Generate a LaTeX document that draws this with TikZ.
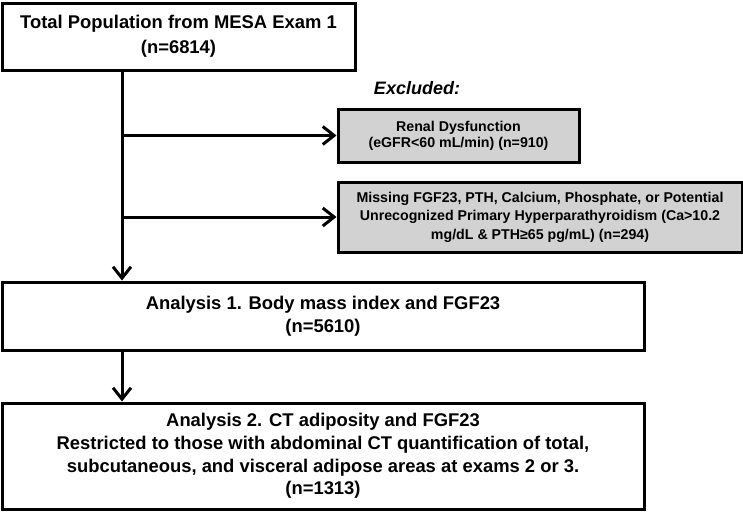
\documentclass[tikz,border=0pt]{standalone}
\usepackage{fontspec}
\setmainfont{Liberation Sans}
\usetikzlibrary{arrows.meta}
\definecolor{boxgray}{RGB}{210,210,210}
\newcommand{\px}{0.75pt}
\newcommand{\bigtext}{\fontsize{13.8}{18.75}\selectfont\bfseries}
\newcommand{\midtext}{\fontsize{13.8}{16.9}\selectfont\bfseries}
\newcommand{\renaltext}{\fontsize{10.65}{11.8}\selectfont\bfseries}
\newcommand{\smalltext}{\fontsize{10.65}{13.9}\selectfont\bfseries}
\newcommand{\excltext}{\fontsize{13.5}{16}\selectfont\bfseries\itshape}
\tikzset{
    common/.style={draw, rectangle, line width=2.25pt, align=center, inner sep=0pt},
    mainbox/.style={common, fill=white, font=\bigtext},
    exclbox/.style={common, fill=boxgray, font=\smalltext},
    flow/.style={line width=2.25pt, -{Straight Barb[length=8.5pt, width=13.5pt]}}
}
\begin{document}
\begin{tikzpicture}[x=\px, y=-\px]
    \useasboundingbox (0,0) rectangle (743,511);
    \node[mainbox, minimum width=353*\px, minimum height=67*\px] (total) at (178.5,36.5)
        {Total Population from MESA Exam 1\\(n=6814)};
    \node[font=\excltext] (excl) at (417,88) {Excluded:};
    \node[exclbox, font=\renaltext, minimum width=241*\px, minimum height=53*\px] (renal) at (458.5,135.5)
        {Renal Dysfunction\\(eGFR<60 mL/min) (n=910)};
    \node[exclbox, minimum width=404*\px, minimum height=70*\px] (missing) at (540,217)
        {Missing FGF23, PTH, Calcium, Phosphate, or Potential\\
         Unrecognized Primary Hyperparathyroidism (Ca>10.2\\
         mg/dL \& PTH≥65 pg/mL) (n=294)};
    \node[mainbox, font=\midtext, minimum width=642*\px, minimum height=68*\px] (ana1) at (323,316)
        {Analysis 1. Body mass index and FGF23\\(n=5610)};
    \node[mainbox, font=\midtext, minimum width=642*\px, minimum height=106*\px] (ana2) at (323,456)
        {Analysis 2. CT adiposity and FGF23\\
         Restricted to those with abdominal CT quantification of total,\\
         subcutaneous, and visceral adipose areas at exams 2 or 3.\\
         (n=1313)};
    \coordinate (trunk) at (122,70);
    \draw[flow] (trunk) -- (trunk |- ana1.north);
    \draw[flow] (trunk |- renal.west) -- (renal.west);
    \draw[flow] (trunk |- missing.west) -- (missing.west);
    \draw[flow] (ana1.south -| trunk) -- (ana2.north -| trunk);
\end{tikzpicture}
\end{document}
